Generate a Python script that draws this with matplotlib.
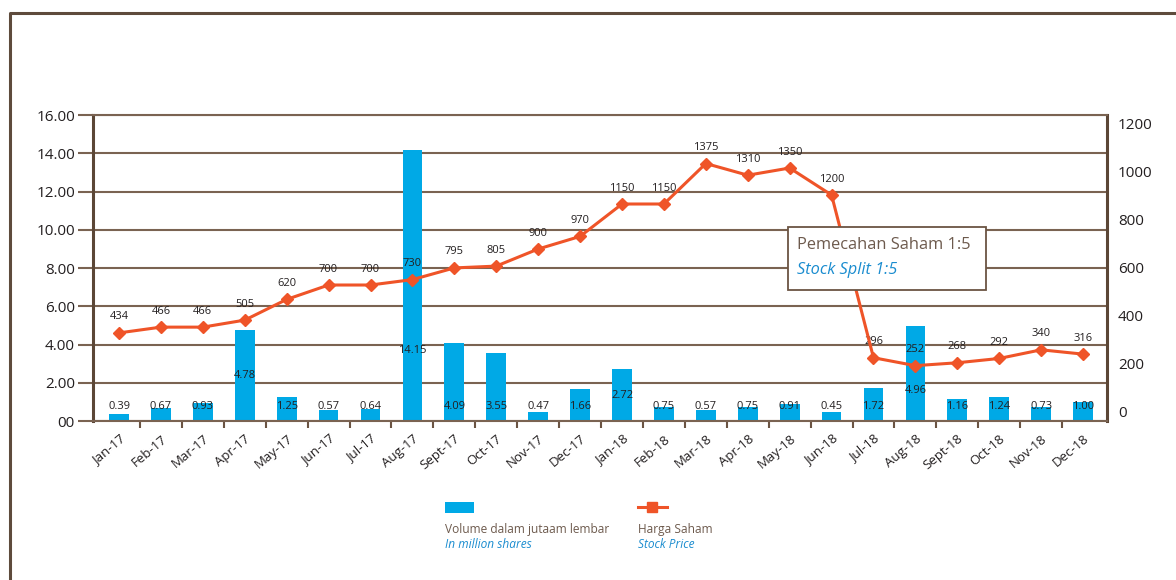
import matplotlib.pyplot as plt
from matplotlib.lines import Line2D
from matplotlib.patches import Rectangle

# data
months = ['Jan-17', 'Feb-17', 'Mar-17', 'Apr-17', 'May-17', 'Jun-17', 'Jul-17', 'Aug-17',
          'Sept-17', 'Oct-17', 'Nov-17', 'Dec-17', 'Jan-18', 'Feb-18', 'Mar-18', 'Apr-18',
          'May-18', 'Jun-18', 'Jul-18', 'Aug-18', 'Sept-18', 'Oct-18', 'Nov-18', 'Dec-18']
volume = [0.39, 0.67, 0.93, 4.78, 1.25, 0.57, 0.64, 14.15, 4.09, 3.55, 0.47, 1.66,
          2.72, 0.75, 0.57, 0.75, 0.91, 0.45, 1.72, 4.96, 1.16, 1.24, 0.73, 1.00]
price = [434, 466, 466, 505, 620, 700, 700, 730, 795, 805, 900, 970,
         1150, 1150, 1375, 1310, 1350, 1200, 296, 252, 268, 292, 340, 316]
left_ticks = [0, 2, 4, 6, 8, 10, 12, 14, 16]
left_labels = ['00', '2.00', '4.00', '6.00', '8.00', '10.00', '12.00', '14.00', '16.00']
right_ticks = [0, 200, 400, 600, 800, 1000, 1200]

BLUE = '#00a9e6'
ORANGE = '#ef5428'
BROWN = '#6b5443'
TXT = '#231f20'

plt.rcParams['font.family'] = ['Open Sans', 'DejaVu Sans']

fig = plt.figure(figsize=(11.76, 5.8), dpi=100)
ax = fig.add_axes([0.0791, 0.2741, 0.8622, 0.5276])
x = list(range(len(months)))

ax.set_xlim(-0.62, 23.57)
ax.set_ylim(0, 16)
ax.bar(x, volume, width=0.47, color=BLUE, zorder=2)

# where the volume labels sit inside the taller bars
label_y = {3: 2.4, 7: 3.7, 12: 1.36, 19: 1.57}
for i, v in enumerate(volume):
    ax.text(i, label_y.get(i, 0.75), f'{v:.2f}', ha='center', va='center',
            fontsize=8, color=TXT, zorder=3)

ax.set_yticks(left_ticks)
ax.set_yticklabels(left_labels, fontsize=11, color=TXT)
ax.grid(axis='y', color='#7a6352', linewidth=1.5, zorder=0)
ax.tick_params(axis='y', direction='out', length=11, width=1.5, color='#7a6352',
               left=True, right=True, labelright=False, pad=2)
ax.set_xticks(x)
ax.set_xticklabels(months, rotation=40, ha='right', rotation_mode='anchor',
                   fontsize=9.5, color=TXT)
ax.set_xticks([i + 0.5 for i in x[:-1]], minor=True)
ax.tick_params(axis='x', which='major', length=0, pad=8)
ax.tick_params(axis='x', which='minor', direction='out', length=5, width=1.5, color=BROWN)
for s in ['left', 'right']:
    ax.spines[s].set_color('#5b4636')
    ax.spines[s].set_linewidth(2.2)
for s in ['top', 'bottom']:
    ax.spines[s].set_color('#7a6352')
    ax.spines[s].set_linewidth(1.5)

# right axis labels
ax2 = ax.twinx()
ax2.set_ylim(-41.7, 1233.3)
ax2.set_yticks(right_ticks)
ax2.set_yticklabels([str(t) for t in right_ticks], fontsize=11, color=TXT)
ax2.tick_params(axis='y', length=0, pad=8)
for s in ax2.spines.values():
    s.set_visible(False)

# price line (drawn at 75% of the right scale, as in the original)
ax3 = ax.twinx()
ax3.set_ylim(-41.7 / 0.75, 1233.3 / 0.75)
ax3.axis('off')
ax3.plot(x, price, color=ORANGE, linewidth=2.2, marker='D', markersize=6.5, zorder=4)
for i, p in enumerate(price):
    ax3.annotate(str(p), (i, p), xytext=(0, 11.5), textcoords='offset points',
                 ha='center', va='center', fontsize=8, color=TXT)

# stock split box
fig.patches.append(Rectangle((788 / 1176, 1 - 290 / 580), 198 / 1176, 63 / 580,
                             transform=fig.transFigure, facecolor='white',
                             edgecolor=BROWN, linewidth=1.3, zorder=10))
fig.text(797 / 1176, 1 - 245 / 580, 'Pemecahan Saham 1:5', fontsize=11.8,
         color='#6d5a4d', va='center', zorder=11)
fig.text(797 / 1176, 1 - 270 / 580, 'Stock Split 1:5', fontsize=11.8, style='italic',
         color='#1a8ccf', va='center', zorder=11)

# legend
fig.patches.append(Rectangle((445 / 1176, 1 - 513 / 580), 29 / 1176, 11 / 580,
                             transform=fig.transFigure, facecolor=BLUE, edgecolor='none'))
fig.lines.append(Line2D([638 / 1176, 667 / 1176], [1 - 507 / 580] * 2,
                        transform=fig.transFigure, color=ORANGE, linewidth=2.2))
fig.lines.append(Line2D([652 / 1176], [1 - 507 / 580], transform=fig.transFigure,
                        color=ORANGE, marker='s', markersize=7, linestyle='none'))
fig.text(445 / 1176, 1 - 529 / 580, 'Volume dalam jutaam lembar', fontsize=8.6,
         color='#6d5a4d', va='center')
fig.text(445 / 1176, 1 - 545 / 580, 'In million shares', fontsize=8.6, style='italic',
         color='#1a8ccf', va='center')
fig.text(638 / 1176, 1 - 529 / 580, 'Harga Saham', fontsize=8.6, color='#6d5a4d',
         va='center')
fig.text(638 / 1176, 1 - 545 / 580, 'Stock Price', fontsize=8.6, style='italic',
         color='#1a8ccf', va='center')

# outer frame
fig.lines.append(Line2D([10 / 1176, 10 / 1176, 1.0], [0.0, 1 - 13 / 580, 1 - 13 / 580],
                        transform=fig.transFigure, color='#5e4b3c', linewidth=2.2))

fig.savefig('out.png', dpi=100)
